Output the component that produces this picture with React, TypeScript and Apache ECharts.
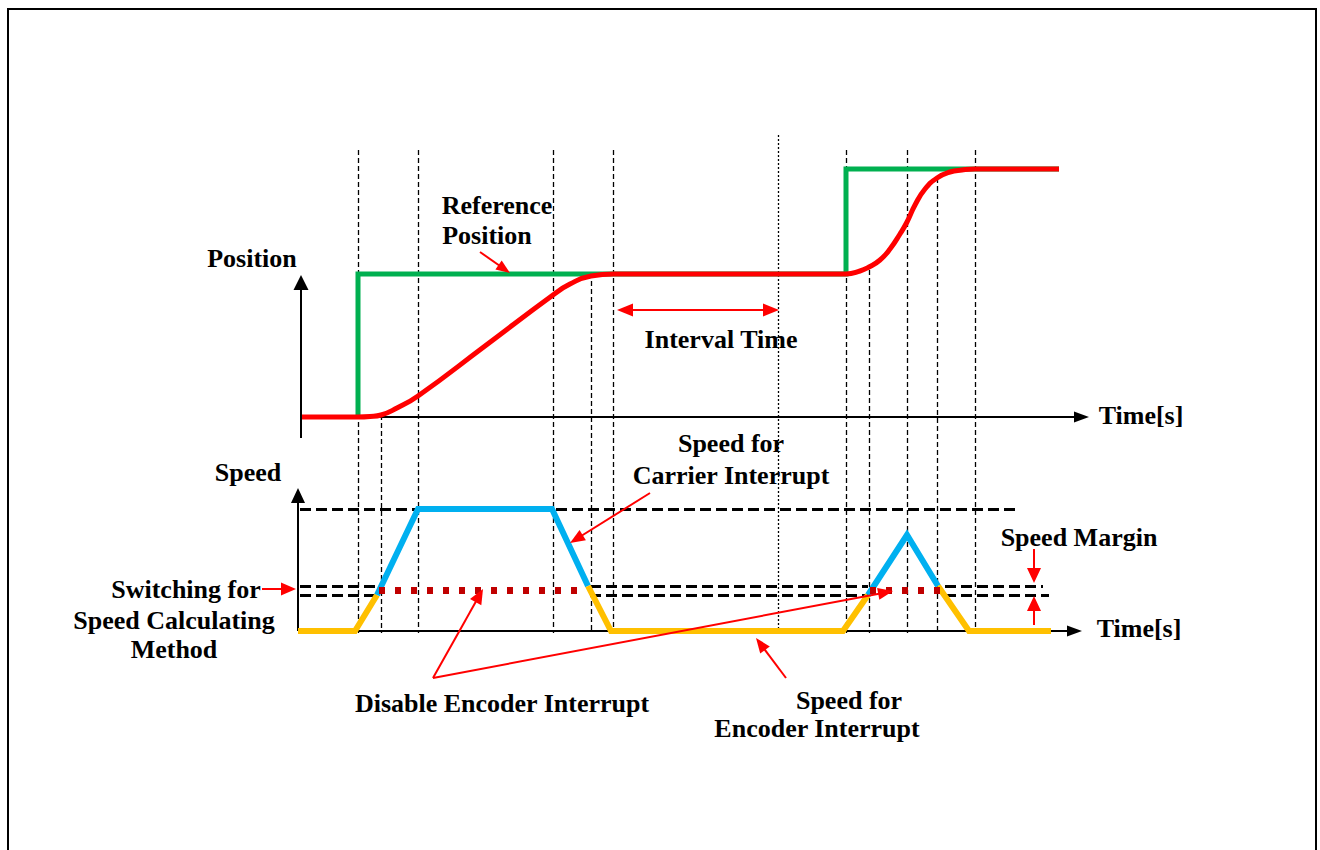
import React, { useEffect, useRef } from 'react';
import * as echarts from 'echarts';

// ---- schematic data (time and position/speed in arbitrary units) ----
// reference position (step command)
const refPositionPts: number[][] = [
  [5.8, 0], [5.8, 14.3], [54.6, 14.3], [54.6, 24.8], [75.9, 24.8],
];
// actual position (S-curves)
const actualPositionPts: number[][] = [
  [0.2, 0], [5.8, 0], [7.0, 0.05], [8.1, 0.2], [9.7, 0.9], [11.8, 2.1], [18.5, 7.1],
  [25.3, 12.2], [27.0, 13.3], [29.1, 14.1], [31.4, 14.3], [54.6, 14.3], [56.0, 14.6],
  [56.9, 15.0], [58.0, 15.7], [59.0, 16.8], [60.0, 18.3], [60.7, 19.5], [61.5, 21.2],
  [62.5, 22.8], [63.7, 23.9], [65.0, 24.5], [66.2, 24.7], [67.5, 24.8], [75.9, 24.8],
];
// speed profile pieces
const speedEncoderA: number[][] = [[-0.2, 0], [5.5, 0], [7.7, 3.6]];
const speedCarrierA: number[][] = [[7.7, 3.6], [11.8, 12.2], [25.2, 12.2], [28.8, 4.5]];
const speedEncoderB: number[][] = [[28.8, 4.5], [31.1, 0], [54.3, 0], [56.8, 3.6]];
const speedCarrierB: number[][] = [[56.8, 3.6], [60.7, 9.6], [63.8, 4.5]];
const speedEncoderC: number[][] = [[63.8, 4.5], [66.9, 0], [75.1, 0]];
// encoder interrupt disabled spans (time from, to) and level
const disabledSpans: number[][] = [[7.9, 28.3], [57.0, 64.7]];
const switchLevel = 4.1;
// speed levels
const speedLimit = 12.2;
const upperThreshold = 4.5;
const lowerThreshold = 3.6;
const speedLimitSpan: number[][] = [[0, 71.5]];
const upperThresholdSpans: number[][] = [[0, 7.6], [29.0, 56.8], [64.5, 74.3]];
const lowerThresholdSpans: number[][] = [[0, 7.6], [29.0, 56.8], [64.5, 74.9]];
// vertical guide lines
const fullGuideTimes: number[] = [5.8, 11.8, 25.3, 31.3, 54.6, 60.7, 67.5];
const partialGuides: number[][] = [[8.1, 0.2], [29.1, 14.4], [56.9, 14.7], [63.7, 23.9]];
const intervalEndTime = 47.8;
const intervalStartTime = 31.3;

// ---- layout constants ----
const PX_PER_UNIT = 10;
const GUIDE_TOP = 26.7;
const GUIDE_BOTTOM = -21.6;
const DOTTED_TOP = 28.2;
const FONT = 'bold 26px "Liberation Serif", "Times New Roman", serif';

function arrowPair(from: number[], to: number[], both = false, head: number[] = [12, 15]) {
  const dx = to[0] - from[0];
  const dy = to[1] - from[1];
  const L = Math.hypot(dx, dy);
  const ux = dx / L;
  const uy = dy / L;
  const off = head[1] / 2 / PX_PER_UNIT;
  const end = [to[0] - ux * off, to[1] - uy * off];
  const start = both ? [from[0] + ux * off, from[1] + uy * off] : from;
  return [
    { coord: start, symbol: both ? 'triangle' : 'none', symbolSize: head },
    { coord: end, symbol: 'triangle', symbolSize: head },
  ];
}

function lineSeries(data: number[][], color: string, width: number, z: number, yAxisIndex: number, extra: any = {}) {
  return {
    type: 'line',
    data,
    xAxisIndex: 0,
    yAxisIndex,
    symbol: 'none',
    showSymbol: false,
    silent: true,
    z,
    clip: false,
    lineStyle: { color, width, cap: 'butt', join: 'miter' },
    ...extra,
  };
}

function markLineSeries(yAxisIndex: number, z: number, color: string, width: number, type: any, data: any[]) {
  return {
    type: 'line',
    data: [],
    xAxisIndex: 0,
    yAxisIndex,
    silent: true,
    markLine: {
      silent: true,
      z,
      symbol: ['none', 'none'],
      label: { show: false },
      emphasis: { disabled: true },
      itemStyle: { color },
      lineStyle: { color, width, type, cap: 'butt' },
      data,
    },
  };
}

const texts: { t: string; x: number; y: number }[] = [
  { t: 'Reference', x: 497, y: 205 },
  { t: 'Position', x: 487, y: 235 },
  { t: 'Position', x: 252, y: 258 },
  { t: 'Time[s]', x: 1141, y: 415 },
  { t: 'Interval Time', x: 721, y: 339 },
  { t: 'Speed', x: 248, y: 472 },
  { t: 'Speed for', x: 731, y: 443 },
  { t: 'Carrier Interrupt', x: 731, y: 475 },
  { t: 'Speed Margin', x: 1079, y: 537 },
  { t: 'Time[s]', x: 1139, y: 628 },
  { t: 'Switching for', x: 186, y: 589 },
  { t: 'Speed Calculating', x: 174, y: 620 },
  { t: 'Method', x: 174, y: 649 },
  { t: 'Disable Encoder Interrupt', x: 502, y: 703 },
  { t: 'Speed for', x: 849, y: 700 },
  { t: 'Encoder Interrupt', x: 817, y: 728 },
];

function buildOption(): any {
  const RED = '#FF0000';
  const guides = [
    ...fullGuideTimes.map((t) => [{ coord: [t, GUIDE_TOP] }, { coord: [t, GUIDE_BOTTOM] }]),
    ...partialGuides.map(([t, p]) => [{ coord: [t, p] }, { coord: [t, GUIDE_BOTTOM] }]),
  ];
  const dotted = [[{ coord: [intervalEndTime, DOTTED_TOP] }, { coord: [intervalEndTime, GUIDE_BOTTOM] }]];
  const hDashed = [
    ...speedLimitSpan.map(([a, b]) => [{ coord: [a, speedLimit] }, { coord: [b, speedLimit] }]),
    ...upperThresholdSpans.map(([a, b]) => [{ coord: [a, upperThreshold] }, { coord: [b, upperThreshold] }]),
    ...lowerThresholdSpans.map(([a, b]) => [{ coord: [a, lowerThreshold] }, { coord: [b, lowerThreshold] }]),
  ];
  const posAxes = [
    arrowPair([0.1, -2.1], [0.1, 14.2], false, [15, 15]),
    arrowPair([0, 0], [78.9, 0], false, [11, 15]),
  ];
  const speedAxes = [
    arrowPair([-0.2, 0], [-0.2, 14.3], false, [14, 15]),
    arrowPair([-0.2, 0], [78.2, 0], false, [11, 15]),
  ];
  const posAnnot = [
    arrowPair([18.0, 16.5], [21.0, 14.4], false, [11, 14]),
    arrowPair([intervalStartTime + 0.4, 10.7], [intervalEndTime + 0.1, 10.7], true, [13, 16]),
  ];
  const speedAnnot = [
    arrowPair([35.0, 13.8], [27.0, 8.8], false, [12, 15]),
    arrowPair([-3.8, 4.2], [-0.4, 4.2], false, [13, 15]),
    arrowPair([13.3, -4.7], [18.3, 4.2], false, [13, 15]),
    arrowPair([13.3, -4.7], [59.3, 4.0], false, [12, 15]),
    arrowPair([48.6, -4.7], [45.6, -0.7], false, [12, 15]),
    arrowPair([73.4, 8.2], [73.4, 4.8], false, [14, 15]),
    arrowPair([73.4, 0.6], [73.4, 3.5], false, [14, 15]),
  ];

  return {
    animation: false,
    backgroundColor: '#fff',
    grid: { left: 60, top: 100, width: 1080, height: 660, show: false },
    xAxis: [{ type: 'value', min: -24, max: 84, show: false }],
    yAxis: [
      { type: 'value', min: -34.3, max: 31.7, show: false },
      { type: 'value', min: -12.9, max: 53.1, show: false },
    ],
    series: [
      markLineSeries(0, 1, '#000', 1.3, [5, 3], guides),
      markLineSeries(0, 1, '#000', 1.3, [2, 2], dotted),
      markLineSeries(1, 1, '#000', 3, [11, 5], hDashed),
      markLineSeries(0, 1.5, '#000', 2, 'solid', posAxes),
      markLineSeries(1, 1.5, '#000', 2, 'solid', speedAxes),
      lineSeries(refPositionPts, '#00B050', 5, 2, 0),
      lineSeries(actualPositionPts, RED, 5, 3, 0, { smooth: 0.5 }),
      lineSeries(speedEncoderA, '#FFC000', 6, 3, 1),
      lineSeries(speedCarrierA, '#00B0F0', 6, 3, 1),
      lineSeries(speedEncoderB, '#FFC000', 6, 3, 1),
      lineSeries(speedCarrierB, '#00B0F0', 6, 3, 1),
      lineSeries(speedEncoderC, '#FFC000', 6, 3, 1),
      markLineSeries(1, 4, '#C00000', 7, [6, 10],
        disabledSpans.map(([a, b]) => [{ coord: [a, switchLevel] }, { coord: [b, switchLevel] }])),
      markLineSeries(0, 10, RED, 2, 'solid', posAnnot),
      markLineSeries(1, 10, RED, 2, 'solid', speedAnnot),
    ],
    graphic: [
      {
        type: 'rect',
        silent: true,
        shape: { x: 8, y: 9, width: 1308, height: 870 },
        style: { fill: 'none', stroke: '#000', lineWidth: 2 },
      },
      ...texts.map((d) => ({
        type: 'text',
        silent: true,
        x: d.x,
        y: d.y,
        style: { text: d.t, font: FONT, fill: '#000', align: 'center', verticalAlign: 'middle' },
      })),
    ],
  };
}

export default function App() {
  const ref = useRef<HTMLDivElement>(null);
  useEffect(() => {
    const chart = echarts.init(ref.current as HTMLDivElement, null, { renderer: 'svg' });
    chart.setOption(buildOption());
    return () => chart.dispose();
  }, []);
  return (
    <div
      ref={ref}
      style={{ position: 'fixed', left: 0, top: 0, width: 1320, height: 850, background: '#fff' }}
    />
  );
}
